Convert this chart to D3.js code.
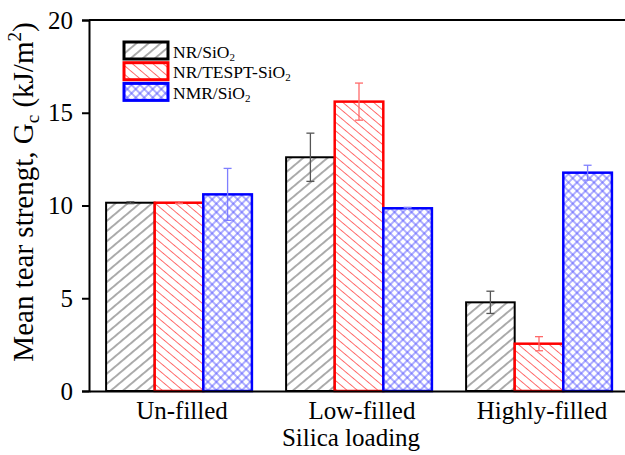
<!DOCTYPE html>
<html>
<head>
<meta charset="utf-8">
<script src="https://cdn.jsdelivr.net/npm/d3@7"></script>
<style>
  html, body { margin: 0; padding: 0; background: #fff; }
  svg, svg text { font-family: "Liberation Serif", "Times New Roman", Times, "DejaVu Serif", "Noto Serif", serif !important; }
  svg { display: block; }
</style>
</head>
<body>
<svg id="chart" width="625" height="455"></svg>
<script>
// ---- data ----
const categories = ["Un-filled", "Low-filled", "Highly-filled"];
const seriesNames = ["NR/SiO", "NR/TESPT-SiO", "NMR/SiO"];
const nrSiO2 = [10.15, 12.6, 4.78];
const nrSiO2Err = [0.05, 1.3, 0.6];
const tesptSiO2 = [10.15, 15.6, 2.55];
const tesptSiO2Err = [0.05, 1.0, 0.38];
const nmrSiO2 = [10.6, 9.85, 11.77];
const nmrSiO2Err = [1.4, 0.05, 0.4];
const yTicks = [0, 5, 10, 15, 20];

// ---- layout ----
const svg = d3.select("#chart");
const plotLeft = 89, plotRight = 629, plotTop = 20, plotBottom = 391;

const x = d3.scaleBand().domain(categories).range([plotLeft, plotRight])
  .paddingInner(0.19).paddingOuter(0.095);
const sub = d3.scaleBand().domain([0, 1, 2]).range([0, x.bandwidth()]);
const y = d3.scaleLinear().domain([0, 20]).range([plotBottom, plotTop]);

const series = [
  { name: seriesNames[0], vals: nrSiO2, err: nrSiO2Err, stroke: "#000", errColor: "#555", fill: "url(#hatchBlack)", sw: 2 },
  { name: seriesNames[1], vals: tesptSiO2, err: tesptSiO2Err, stroke: "#ff0000", errColor: "#ff6a6a", fill: "url(#hatchRed)", sw: 2.5 },
  { name: seriesNames[2], vals: nmrSiO2, err: nmrSiO2Err, stroke: "#0000ff", errColor: "#7f7fff", fill: "url(#hatchBlue)", sw: 2.5 }
];

// ---- patterns ----
const defs = svg.append("defs");
function linePattern(id, angle, spacing, color, width) {
  const p = defs.append("pattern").attr("id", id)
    .attr("patternUnits", "userSpaceOnUse")
    .attr("width", 20).attr("height", spacing)
    .attr("patternTransform", `rotate(${angle})`);
  p.append("rect").attr("width", 20).attr("height", spacing).attr("fill", "#fff");
  p.append("line").attr("x1", 0).attr("x2", 20).attr("y1", spacing / 2).attr("y2", spacing / 2)
    .attr("stroke", color).attr("stroke-width", width);
}
linePattern("hatchBlack", -40, 7.8, "#444", 0.9);
linePattern("hatchRed", 40, 6.6, "#ff5c5c", 0.9);
(function () {
  const s = 6.0;
  const p = defs.append("pattern").attr("id", "hatchBlue")
    .attr("patternUnits", "userSpaceOnUse")
    .attr("width", s).attr("height", s)
    .attr("patternTransform", "rotate(45)");
  p.append("rect").attr("width", s).attr("height", s).attr("fill", "#fff");
  p.append("line").attr("x1", 0).attr("x2", s).attr("y1", s / 2).attr("y2", s / 2)
    .attr("stroke", "#4d4dff").attr("stroke-width", 0.9);
  p.append("line").attr("y1", 0).attr("y2", s).attr("x1", s / 2).attr("x2", s / 2)
    .attr("stroke", "#4d4dff").attr("stroke-width", 0.9);
})();

// ---- bars ----
series.forEach((s, si) => {
  const g = svg.append("g");
  categories.forEach((c, ci) => {
    const x0 = x(c) + sub(si);
    g.append("rect")
      .attr("x", x0).attr("y", y(s.vals[ci]))
      .attr("width", sub.bandwidth()).attr("height", y(0) - y(s.vals[ci]))
      .attr("fill", s.fill).attr("stroke", s.stroke).attr("stroke-width", s.sw);
  });
});

// ---- error bars ----
series.forEach((s, si) => {
  categories.forEach((c, ci) => {
    const cx = x(c) + sub(si) + sub.bandwidth() / 2;
    const hi = y(s.vals[ci] + s.err[ci]), lo = y(s.vals[ci] - s.err[ci]);
    const g = svg.append("g").attr("stroke", s.errColor).attr("stroke-width", 1.3);
    g.append("line").attr("x1", cx).attr("x2", cx).attr("y1", hi).attr("y2", lo);
    g.append("line").attr("x1", cx - 4).attr("x2", cx + 4).attr("y1", hi).attr("y2", hi);
    g.append("line").attr("x1", cx - 4).attr("x2", cx + 4).attr("y1", lo).attr("y2", lo);
  });
});

// ---- frame / axes ----
svg.append("line").attr("x1", plotLeft).attr("x2", plotRight).attr("y1", plotTop).attr("y2", plotTop)
  .attr("stroke", "#000").attr("stroke-width", 2);
svg.append("line").attr("x1", plotRight).attr("x2", plotRight).attr("y1", plotTop).attr("y2", plotBottom)
  .attr("stroke", "#000").attr("stroke-width", 2);

const yAxis = svg.append("g").attr("transform", `translate(${plotLeft},0)`)
  .call(d3.axisLeft(y).tickValues(yTicks).tickSize(7).tickPadding(9).tickFormat(d3.format("d")));
yAxis.attr("font-family", null).attr("font-size", null);
yAxis.select(".domain").attr("stroke-width", 2);
yAxis.selectAll(".tick line").attr("stroke-width", 2);
yAxis.selectAll("text").attr("font-size", 25).attr("fill", "#000");

const xAxis = svg.append("g").attr("transform", `translate(0,${plotBottom})`)
  .call(d3.axisBottom(x).tickSize(0).tickPadding(10));
xAxis.attr("font-family", null).attr("font-size", null);
xAxis.select(".domain").attr("stroke-width", 2);
xAxis.selectAll("text").attr("font-size", 25).attr("fill", "#000").attr("dx", 3);

// axis titles
svg.append("text").attr("x", 351).attr("y", 446)
  .attr("text-anchor", "middle").attr("font-size", 25).text("Silica loading");

const yl = svg.append("text")
  .attr("transform", "translate(33,192) rotate(-90)")
  .attr("text-anchor", "middle").attr("font-size", 29);
yl.append("tspan").text("Mean tear strengt, G");
yl.append("tspan").attr("font-size", 19).attr("dy", 6).text("c");
yl.append("tspan").attr("dy", -6).text(" (kJ/m");
yl.append("tspan").attr("font-size", 19).attr("dy", -12).text("2");
yl.append("tspan").attr("dy", 12).text(")");

// ---- legend ----
const legend = svg.append("g");
series.forEach((s, i) => {
  const ly = 42 + i * 20.7;
  legend.append("rect").attr("x", 124).attr("y", ly).attr("width", 44).attr("height", 17)
    .attr("fill", s.fill).attr("stroke", s.stroke).attr("stroke-width", 3);
  const t = legend.append("text").attr("x", 173).attr("y", ly + 15.5).attr("font-size", 17.5);
  t.append("tspan").text(s.name);
  t.append("tspan").attr("font-size", 11).attr("dy", 3).text("2");
});
</script>
</body>
</html>
